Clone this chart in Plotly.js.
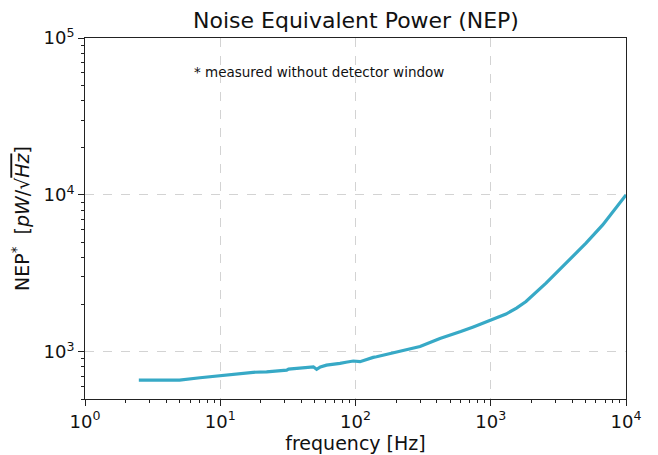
<!DOCTYPE html>
<html>
<head>
<meta charset="utf-8">
<script src="https://cdn.plot.ly/plotly-3.0.1.min.js"></script>
<style>html,body{margin:0;padding:0;background:#fff;}#chart{width:658px;height:455px;}</style>
</head>
<body>
<div id="chart"></div>
<script>
// frequency [Hz]
const freq = [2.5, 3, 4, 5, 7.08, 10, 13, 17.5, 22, 27, 31, 32, 40, 48.8, 51.6, 55, 61, 68, 76.8, 85, 96.3, 108, 120, 135, 143, 180, 239, 300, 421, 500, 600, 743, 850, 1000, 1297, 1550, 1823, 2563, 3600, 5060, 6724, 8433, 10000];
// NEP* [pW/sqrt(Hz)]
const nep = [660, 660, 659, 660, 683, 706, 722, 740, 745, 752, 764, 775, 785, 802, 773, 800, 822, 830, 844, 858, 873, 865, 895, 921, 929, 975, 1026, 1080, 1216, 1275, 1345, 1440, 1505, 1590, 1740, 1900, 2091, 2740, 3674, 4923, 6440, 8221, 10000];

const xMajor = [1, 10, 100, 1000, 10000];
const xMajorText = ['10<sup>0</sup>', '10<sup>1</sup>', '10<sup>2</sup>', '10<sup>3</sup>', '10<sup>4</sup>'];
const yMajor = [1000, 10000, 100000];
const yMajorText = ['10<sup>3</sup>', '10<sup>4</sup>', '10<sup>5</sup>'];

function minorTicks(lo, hi) {
  const out = [];
  for (let d = lo; d < hi; d *= 10) {
    for (let k = 2; k <= 9; k++) out.push(d * k);
  }
  return out;
}

const lineColor = '#37a9c6';

const trace = {
  x: freq, y: nep, type: 'scatter', mode: 'lines',
  line: {color: lineColor, width: 3.2},
  hoverinfo: 'skip'
};

const axisCommon = {
  type: 'log',
  showline: true, linecolor: '#222', linewidth: 1, mirror: true,
  ticks: 'outside', ticklen: 6, tickwidth: 1, tickcolor: '#222',
  tickmode: 'array',
  showgrid: true, gridcolor: '#d3d3d3', griddash: 'dash', gridwidth: 1,
  zeroline: false,
  tickfont: {family: 'DejaVu Sans', size: 18, color: '#111'}
};

const layout = {
  width: 658, height: 455,
  margin: {l: 85, r: 32, t: 38, b: 56},
  paper_bgcolor: '#fff', plot_bgcolor: '#fff',
  showlegend: false,
  font: {family: 'DejaVu Sans', color: '#111'},
  title: {
    text: 'Noise Equivalent Power (NEP)',
    font: {family: 'DejaVu Sans', size: 22, color: '#111'},
    x: 0.541, xanchor: 'center', y: 0.955, yanchor: 'middle'
  },
  xaxis: Object.assign({}, axisCommon, {
    range: [0, 4],
    tickvals: xMajor, ticktext: xMajorText,
    minor: {tickmode: 'array', tickvals: minorTicks(1, 10000), ticks: 'outside', ticklen: 3, tickcolor: '#222', showgrid: false},
    title: {text: 'frequency [Hz]', font: {family: 'DejaVu Sans', size: 19, color: '#111'}, standoff: 5}
  }),
  yaxis: Object.assign({}, axisCommon, {
    range: [Math.log10(500), 5],
    tickvals: yMajor, ticktext: yMajorText,
    minor: {tickmode: 'array', tickvals: minorTicks(100, 100000).filter(v => v >= 500), ticks: 'outside', ticklen: 3, tickcolor: '#222', showgrid: false},
    title: {text: 'NEP<sup>*</sup>  [<i>pW</i>/√<span style="text-decoration:overline"><i>Hz</i></span>]', font: {family: 'DejaVu Sans', size: 19, color: '#111'}, standoff: 8}
  }),
  annotations: [{
    text: '* measured without detector window',
    xref: 'paper', yref: 'paper', x: 0.432, y: 0.905,
    xanchor: 'center', yanchor: 'middle', showarrow: false,
    font: {family: 'DejaVu Sans', size: 13.5, color: '#111'}
  }]
};

Plotly.newPlot('chart', [trace], layout, {displayModeBar: false, staticPlot: true});
</script>
</body>
</html>
